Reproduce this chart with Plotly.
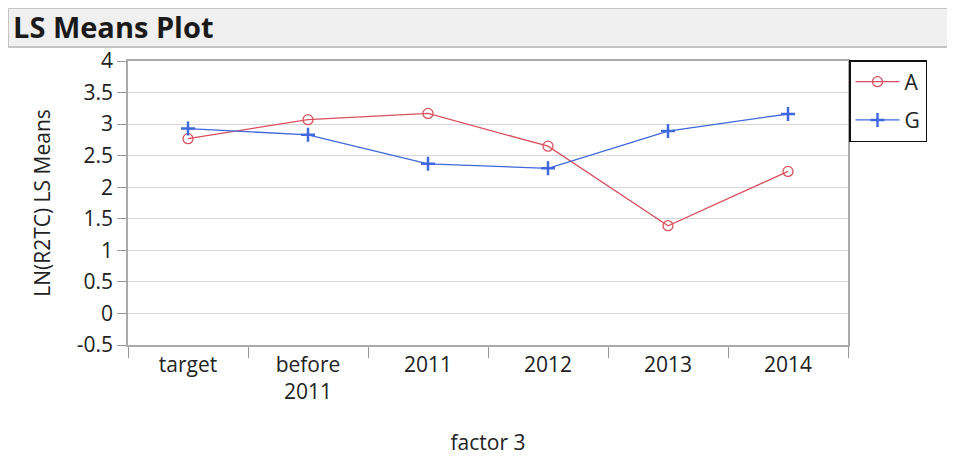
import plotly.graph_objects as go

categories = ["target", "before<br>2011", "2011", "2012", "2013", "2014"]
series_names = ["A", "G"]
values_A = [2.77, 3.07, 3.17, 2.65, 1.39, 2.25]
values_G = [2.93, 2.83, 2.37, 2.30, 2.89, 3.16]
y_ticks = [-0.5, 0, 0.5, 1, 1.5, 2, 2.5, 3, 3.5, 4]
y_tick_labels = ["-0.5", "0", "0.5", "1", "1.5", "2", "2.5", "3", "3.5", "4"]

# page body has an 8px margin, so the figure starts at (8, 8) on screen
W, H = 947, 448
L, R, T, B = 120, 840, 53, 337  # plot area in figure pixels
PW, PH = R - L, B - T
FONT = "Open Sans, Segoe UI, DejaVu Sans, sans-serif"
RED = "#D9505E"
BLUE = "#3F68DD"
FS = 21


def px(x):
    return (x - L) / PW


def py(y):
    return (B - y) / PH


fig = go.Figure()
fig.add_trace(go.Scatter(
    x=categories, y=values_A, name=series_names[0], mode="lines+markers",
    legendgroup="a",
    line=dict(color=RED, width=1.3),
    marker=dict(symbol="circle-open", size=10, color=RED, line=dict(width=1.3)),
))
fig.add_trace(go.Scatter(
    x=categories, y=values_G, name=series_names[1], mode="lines+markers",
    legendgroup="g",
    line=dict(color=BLUE, width=1.3),
    marker=dict(symbol="cross-thin-open", size=10, color=BLUE, line=dict(width=2.5, color=BLUE)),
))

# header bar
fig.add_shape(type="rect", xref="paper", yref="paper",
              x0=px(0), x1=px(960), y0=py(39), y1=py(0),
              fillcolor="#F0F0F0", line=dict(color="#C4C4C4", width=2), layer="below")
fig.add_annotation(text="<b>LS Means Plot</b>", xref="paper", yref="paper",
                   x=px(3), y=py(19), xanchor="left", yanchor="middle",
                   showarrow=False, font=dict(size=29, color="#1a1a1a", family=FONT))

fig.update_layout(
    width=W, height=H,
    margin=dict(l=L, r=W - R, t=T, b=H - B, autoexpand=False),
    paper_bgcolor="white", plot_bgcolor="white",
    font=dict(family=FONT, size=FS, color="#222"),
    showlegend=True,
    legend=dict(x=px(841), y=py(52), xanchor="left", yanchor="top",
                bordercolor="#111", borderwidth=1.5, bgcolor="white",
                font=dict(size=FS, color="#222"), itemwidth=44,
                tracegroupgap=8),
    xaxis=dict(
        type="category", range=[-0.5, 5.5], tickson="boundaries",
        ticks="outside", ticklen=11, tickcolor="#999", tickwidth=1,
        showgrid=False, showline=True, linecolor="#AAA", linewidth=1.5, mirror=True,
        title=dict(text="factor 3", font=dict(size=FS), standoff=31),
        tickfont=dict(size=FS),
    ),
    yaxis=dict(
        range=[-0.5, 4], tickvals=y_ticks, ticktext=y_tick_labels,
        ticks="outside", ticklen=9, tickcolor="#999",
        showgrid=True, gridcolor="#D8D8D8", gridwidth=1.2,
        showline=True, linecolor="#AAA", linewidth=1.5, mirror=True,
        zeroline=False,
        title=dict(text="LN(R2TC) LS Means", font=dict(size=FS), standoff=20),
        tickfont=dict(size=FS),
    ),
)

fig.write_html("out.html")
